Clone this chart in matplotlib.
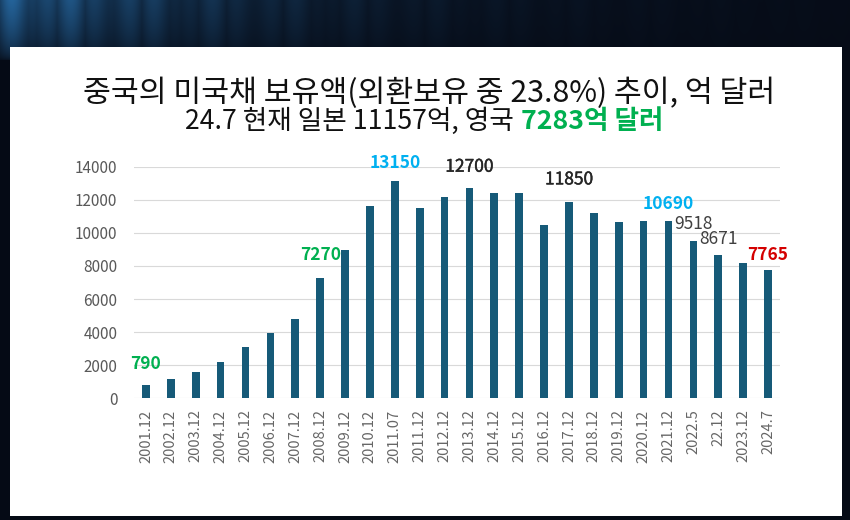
import matplotlib.pyplot as plt
import matplotlib.patheffects as pe
from matplotlib.patches import Rectangle
import numpy as np

plt.rcParams['font.family'] = ['Noto Sans CJK KR', 'DejaVu Sans']

periods = ['2001.12', '2002.12', '2003.12', '2004.12', '2005.12', '2006.12',
           '2007.12', '2008.12', '2009.12', '2010.12', '2011.07', '2011.12',
           '2012.12', '2013.12', '2014.12', '2015.12', '2016.12', '2017.12',
           '2018.12', '2019.12', '2020.12', '2021.12', '2022.5', '22.12',
           '2023.12', '2024.7']
holdings = [790, 1180, 1590, 2220, 3100, 3970, 4780, 7270, 8950, 11600, 13150,
            11500, 12150, 12700, 12400, 12400, 10500, 11850, 11200, 10650,
            10710, 10690, 9518, 8671, 8160, 7765]

# which bars get a value label
label_idx = [0, 7, 10, 13, 17, 21, 22, 23, 25]
label_colors = ['#00B050', '#00B050', '#00B0F0', '#262626', '#262626',
                '#00B0F0', '#404040', '#404040', '#D40000']
label_weights = ['bold', 'bold', 'bold', 'semi', 'semi', 'bold',
                 'normal', 'normal', 'bold']
label_offsets = [9, 10, 6, 9, 10, 6, 6, 5, 4]   # points above bar top

title = '중국의 미국채 보유액(외환보유 중 23.8%) 추이, 억 달러'
sub_left = '24.7 현재 일본 11157억, 영국'
sub_right = '7283억 달러'

W, H = 850, 520
fig = plt.figure(figsize=(W / 100, H / 100), dpi=100)
fig.patch.set_facecolor('#060b16')

# background: dark frame, bluish light streaks in the top band, white slide panel
ax_bg = fig.add_axes([0, 0, 1, 1])
ax_bg.set_zorder(-1)
xs = np.arange(W)
fade = np.exp(-xs / 230.0)
stripes = 0.55 + 0.45 * np.abs(np.sin(xs / 9.0) * np.cos(xs / 23.0))
glow = fade * stripes
rows = np.clip((60 - np.arange(H)) / 60.0, 0, 1) ** 0.5
img = np.zeros((H, W, 3))
base = np.array([6, 11, 22]) / 255.0
blue = np.array([40, 110, 170]) / 255.0
for c in range(3):
    img[:, :, c] = base[c] + (blue[c] - base[c]) * rows[:, None] * glow[None, :]
ax_bg.imshow(img, extent=(0, 1, 0, 1), aspect='auto', origin='upper')
ax_bg.add_patch(Rectangle((10 / W, 4 / H), 832 / W, 469 / H,
                          facecolor='white', edgecolor='none'))
ax_bg.set_xlim(0, 1)
ax_bg.set_ylim(0, 1)
ax_bg.axis('off')

# main chart
ax = fig.add_axes([134 / W, (H - 398.3) / H, 646 / W, 231.6 / H])
ax.set_facecolor('none')
x = np.arange(len(periods))
bars = ax.bar(x, holdings, width=0.31, color='#165A78', zorder=3)

ax.set_xlim(-0.48, len(periods) - 0.52)
ax.set_ylim(0, 14000)
ax.set_yticks(np.arange(0, 14001, 2000))
ax.set_xticks(x)
ax.set_xticklabels(periods, rotation=90)
ax.tick_params(axis='y', length=0, pad=12, labelsize=11, labelcolor='#595959')
ax.tick_params(axis='x', length=0, pad=8, labelsize=10.5, labelcolor='#666666')
ax.grid(axis='y', color='#D9D9D9', linewidth=0.8)
ax.set_axisbelow(True)
for s in ax.spines.values():
    s.set_visible(False)

for i, col, wt, off in zip(label_idx, label_colors, label_weights, label_offsets):
    t = ax.annotate('{}'.format(holdings[i]),
                    xy=(x[i], holdings[i]),
                    xytext=(0, off),
                    textcoords='offset points',
                    ha='center', va='bottom', fontsize=12.5, color=col,
                    fontweight='normal' if wt == 'semi' else wt, zorder=4)
    if wt == 'semi':
        # fake a semibold weight with a thin outline
        t.set_path_effects([pe.withStroke(linewidth=0.3, foreground=col)])

# titles
fig.text(0.505, 1 - 93 / H, title, ha='center', va='center',
         fontsize=21.8, color='#111111')

renderer = fig.canvas.get_renderer()
t1 = fig.text(0, 1 - 121 / H, sub_left, ha='left', va='center',
              fontsize=19.2, color='#111111')
t2 = fig.text(0, 1 - 121 / H, sub_right, ha='left', va='center',
              fontsize=19.2, color='#00B050', fontweight='bold')
w1 = t1.get_window_extent(renderer).width
w2 = t2.get_window_extent(renderer).width
gap = 7
start = 424 - (w1 + gap + w2) / 2
t1.set_x(start / W)
t2.set_x((start + w1 + gap) / W)

plt.savefig('out.png', dpi=100, facecolor=fig.get_facecolor())
